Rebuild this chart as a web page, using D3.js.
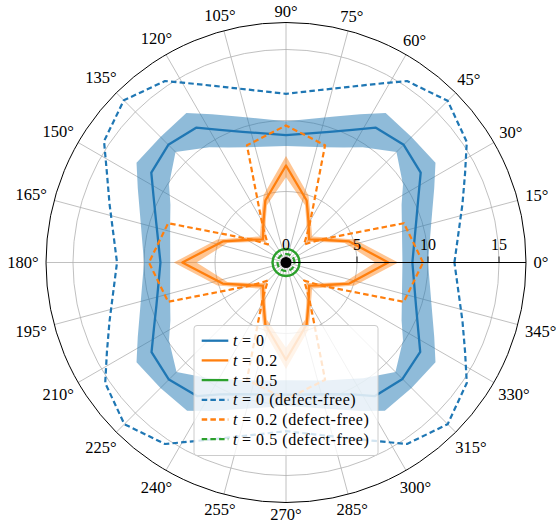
<!DOCTYPE html>
<html><head><meta charset="utf-8">
<script src="https://cdn.jsdelivr.net/npm/d3@7"></script>
<style>body{margin:0;background:#fff}svg{display:block}
text{font-family:"Liberation Serif","Times New Roman",serif;}
</style>
</head><body>
<svg id="chart" width="557" height="528"></svg>
<script>
// Sampling directions (degrees)
const thetaDeg = [0,18.43,26.57,33.69,45,56.31,63.43,71.57,
  90,108.43,116.57,123.69,135,146.31,153.43,161.57,
  180,198.43,206.57,213.69,225,236.31,243.43,251.57,
  270,288.43,296.57,303.69,315,326.31,333.43,341.57];
// t = 0
const t0 = [8.90,9.68,10.43,11.40,11.72,11.41,10.45,9.70,
  8.97,9.70,10.45,11.41,11.72,11.40,10.43,9.66,
  8.84,9.62,10.40,11.38,11.66,11.30,10.38,9.78,
  9.30,9.78,10.38,11.30,11.60,11.36,10.40,9.65];
const t0Lo = [8.20,8.60,9.10,9.90,11.00,9.75,9.05,8.55,
  8.20,8.55,9.05,9.75,11.00,9.90,9.10,8.60,
  8.15,8.60,9.10,9.90,10.90,9.80,9.20,8.75,
  8.30,8.75,9.20,9.80,10.90,9.90,9.10,8.60];
const t0Hi = [10.00,10.84,11.67,12.65,12.50,12.65,11.67,10.84,
  9.95,10.84,11.67,12.65,12.50,12.65,11.67,10.84,
  10.00,10.84,11.67,12.65,12.50,12.55,11.70,10.90,
  10.10,10.90,11.70,12.55,12.50,12.65,11.67,10.84];
// t = 0.2
const t2 = [7.20,4.70,3.50,2.90,2.30,2.90,3.50,4.60,
  6.83,4.60,3.50,2.90,2.30,2.90,3.50,4.70,
  7.30,4.70,3.50,2.90,2.30,2.90,3.50,4.60,
  6.85,4.60,3.50,2.90,2.30,2.90,3.50,4.70];
const t2Lo = [6.30,4.35,3.20,2.60,2.05,2.60,3.20,4.25,
  6.00,4.25,3.20,2.60,2.05,2.60,3.20,4.35,
  6.30,4.35,3.20,2.60,2.05,2.60,3.20,4.25,
  6.00,4.25,3.20,2.60,2.05,2.60,3.20,4.35];
const t2Hi = [7.90,5.10,3.85,3.20,2.60,3.20,3.85,5.00,
  7.50,5.00,3.85,3.20,2.60,3.20,3.85,5.10,
  7.90,5.10,3.85,3.20,2.60,3.20,3.85,5.00,
  7.50,5.00,3.85,3.20,2.60,3.20,3.85,5.10];
// t = 0.5
const t5 = [0.95,0.95,0.95,0.95,0.95,0.95,0.95,0.95,
  0.95,0.95,0.95,0.95,0.95,0.95,0.95,0.95,
  0.95,0.95,0.95,0.95,0.95,0.95,0.95,0.95,
  0.95,0.95,0.95,0.95,0.95,0.95,0.95,0.95];
const t5Lo = [0.88,0.88,0.88,0.88,0.88,0.88,0.88,0.88,
  0.88,0.88,0.88,0.88,0.88,0.88,0.88,0.88,
  0.88,0.88,0.88,0.88,0.88,0.88,0.88,0.88,
  0.88,0.88,0.88,0.88,0.88,0.88,0.88,0.88];
const t5Hi = [1.02,1.02,1.02,1.02,1.02,1.02,1.02,1.02,
  1.02,1.02,1.02,1.02,1.02,1.02,1.02,1.02,
  1.02,1.02,1.02,1.02,1.02,1.02,1.02,1.02,
  1.02,1.02,1.02,1.02,1.02,1.02,1.02,1.02];
// defect-free
const t0Free = [11.86,13.10,14.10,15.30,16.10,15.36,14.05,13.00,
  11.88,13.00,14.05,15.36,16.15,15.40,14.10,13.10,
  11.90,13.10,14.10,15.30,16.10,15.36,14.05,13.00,
  11.88,13.00,14.05,15.36,16.10,15.30,14.10,13.10];
const t2Free = [9.65,8.75,4.20,2.90,1.80,2.90,4.20,8.70,
  9.65,8.70,4.20,2.90,1.80,2.90,4.20,8.75,
  9.65,8.75,4.20,2.90,1.80,2.90,4.20,8.70,
  9.65,8.70,4.20,2.90,1.80,2.90,4.20,8.75];
const t5Free = [0.60,0.60,0.60,0.60,0.60,0.60,0.60,0.60,
  0.60,0.60,0.60,0.60,0.60,0.60,0.60,0.60,
  0.60,0.60,0.60,0.60,0.60,0.60,0.60,0.60,
  0.60,0.60,0.60,0.60,0.60,0.60,0.60,0.60];

const rTicks = [0,5,10,15];
const thetaTicks = d3.range(0,360,15);
const legendRest = ["= 0","= 0.2","= 0.5","= 0 (defect-free)","= 0.2 (defect-free)","= 0.5 (defect-free)"];

const C_BLUE="#1f77b4", C_ORANGE="#ff7f0e", C_GREEN="#2ca02c";
const cx=286, cy=262.5, R=240, rMax=16.9;
const svg=d3.select("#chart");
const r=d3.scaleLinear().domain([0,rMax]).range([0,R]);
const g=svg.append("g").attr("transform",`translate(${cx},${cy})`);
const ang=d=>(90-d)*Math.PI/180;

// grid
thetaTicks.forEach(t=>{
  const a=t*Math.PI/180;
  g.append("line").attr("x1",0).attr("y1",0).attr("x2",R*Math.cos(a)).attr("y2",-R*Math.sin(a))
   .attr("stroke","#b0b0b0").attr("stroke-width",0.8);
});
rTicks.filter(v=>v>0).forEach(v=>{
  g.append("circle").attr("r",r(v)).attr("fill","none").attr("stroke","#b0b0b0").attr("stroke-width",0.8);
});

function band(lo,hi,color,op){
  const p=thetaDeg.map((t,i)=>({t,lo:lo[i],hi:hi[i]}));p.push({t:360,lo:lo[0],hi:hi[0]});
  g.append("path").attr("d",d3.areaRadial().angle(d=>ang(d.t)).innerRadius(d=>r(d.lo)).outerRadius(d=>r(d.hi))(p))
   .attr("fill",color).attr("fill-opacity",op).attr("stroke","none");
}
function line(vals,color,dashed){
  const l=d3.lineRadial().angle(d=>ang(d.t)).radius(d=>r(d.v)).curve(d3.curveLinearClosed);
  const p=thetaDeg.map((t,i)=>({t,v:vals[i]}));
  const path=g.append("path").attr("d",l(p)).attr("fill","none").attr("stroke",color)
   .attr("stroke-width",dashed?2.2:2.3).attr("stroke-linejoin","round");
  if(dashed) path.attr("stroke-dasharray","5.5,3.2");
}
band(t0Lo,t0Hi,C_BLUE,0.5);
band(t2Lo,t2Hi,C_ORANGE,0.45);
band(t5Lo,t5Hi,C_GREEN,0.45);
line(t0,C_BLUE,false);
line(t2,C_ORANGE,false);
line(t5,C_GREEN,false);
line(t0Free,C_BLUE,true);
line(t2Free,C_ORANGE,true);
line(t5Free,C_GREEN,true);

// centre
g.append("circle").attr("r",5.5).attr("fill","#000");

// outer circle
g.append("circle").attr("r",R).attr("fill","none").attr("stroke","#000").attr("stroke-width",1);
// radial axis line and ticks
g.append("line").attr("x1",0).attr("y1",0).attr("x2",R).attr("y2",0).attr("stroke","#000").attr("stroke-width",1.1);
rTicks.forEach(v=>{
  g.append("line").attr("x1",r(v)).attr("x2",r(v)).attr("y1",0).attr("y2",-6).attr("stroke","#000").attr("stroke-width",0.9);
  g.append("text").attr("x",r(v)).attr("y",-12.5).attr("text-anchor","middle")
   .attr("font-size",16).attr("fill","#000").text(v);
});
// theta labels
thetaTicks.forEach(t=>{
  const a=t*Math.PI/180;
  const tx=g.append("text").attr("font-size",16.5).attr("fill","#000")
    .attr("text-anchor","middle").text(t+"°");
  const bb=tx.node().getBBox();
  const w=bb.width, h=8.5;
  const d=R+7.5+(w/2)*Math.abs(Math.cos(a))+(h/2)*Math.abs(Math.sin(a));
  tx.attr("x",d*Math.cos(a)).attr("y",-d*Math.sin(a)+5.8);
});

// legend
const lg=svg.append("g");
lg.append("rect").attr("x",194).attr("y",325.5).attr("width",184).attr("height",130).attr("rx",3)
  .attr("fill","#fff").attr("fill-opacity",0.8).attr("stroke","#cccccc").attr("stroke-width",1);
const lcol=[C_BLUE,C_ORANGE,C_GREEN,C_BLUE,C_ORANGE,C_GREEN];
legendRest.forEach((rest,i)=>{
  const y=340.7+i*19.7;
  const ln=lg.append("line").attr("x1",201.7).attr("x2",228.3).attr("y1",y).attr("y2",y)
    .attr("stroke",lcol[i]).attr("stroke-width",2.3);
  if(i>=3) ln.attr("stroke-dasharray","5.5,3.2");
  const tt=lg.append("text").attr("x",233).attr("y",y+5.5).attr("font-size",16)
    .attr("font-style","italic").attr("fill","#000").text("t");
  const tw=tt.node().getComputedTextLength();
  lg.append("text").attr("x",233+tw+4.5).attr("y",y+5.5).attr("font-size",16)
    .attr("letter-spacing",0.55).attr("fill","#000").text(rest);
});
</script>
</body></html>
